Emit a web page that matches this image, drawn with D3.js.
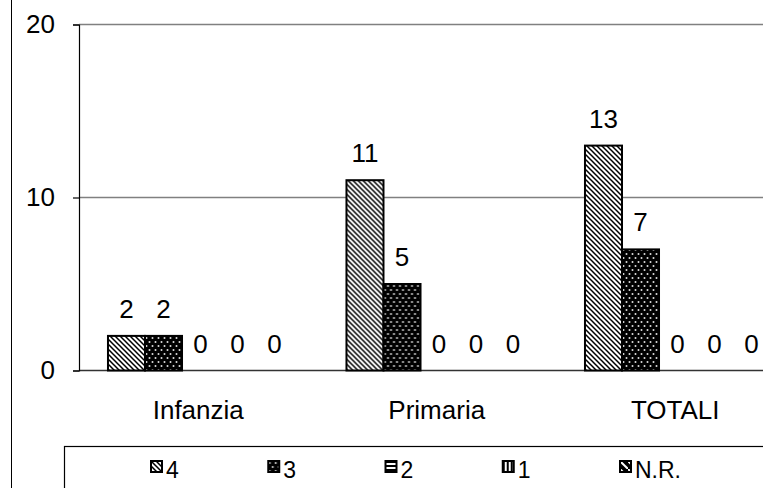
<!DOCTYPE html>
<html>
<head>
<meta charset="utf-8">
<script src="https://cdn.jsdelivr.net/npm/d3@7"></script>
<style>
  body { margin: 0; background: #fff; }
  text { font-family: "Liberation Sans", Arial, sans-serif; fill: #000; }
</style>
</head>
<body>
<div id="area"></div>
<script>
// categories and series
var categories = ["Infanzia", "Primaria", "TOTALI"];
var seriesNames = ["4", "3", "2", "1", "N.R."];
var val4 = [2, 11, 13];
var val3 = [2, 5, 7];
var val2 = [0, 0, 0];
var val1 = [0, 0, 0];
var valNR = [0, 0, 0];
var yTicks = [0, 10, 20];

var allSeries = [val4, val3, val2, val1, valNR];
var patternIds = ["p4", "p3", "p2", "p1", "pnr"];

var width = 763, height = 488;
var plotLeft = 79, plotRight = 794.5, plotTop = 24.5, plotBottom = 370.5;

var svg = d3.select("#area")
  .append("svg")
  .attr("width", width)
  .attr("height", height);

// patterns
var defs = svg.append("defs");

var p4 = defs.append("pattern").attr("id", "p4")
  .attr("patternUnits", "userSpaceOnUse").attr("width", 5).attr("height", 5);
p4.append("rect").attr("width", 5).attr("height", 5).attr("fill", "#fff");
p4.append("path").attr("d", "M-1,-1L6,6M-1,4L1,6M4,-1L6,1")
  .attr("stroke", "#000").attr("stroke-width", 1.5);

var p3 = defs.append("pattern").attr("id", "p3")
  .attr("patternUnits", "userSpaceOnUse").attr("width", 6).attr("height", 8);
p3.append("rect").attr("width", 6).attr("height", 8).attr("fill", "#000");
p3.append("circle").attr("cx", 1.5).attr("cy", 2).attr("r", 1).attr("fill", "#ddd");
p3.append("circle").attr("cx", 4.5).attr("cy", 6).attr("r", 1).attr("fill", "#ddd");

var p2 = defs.append("pattern").attr("id", "p2")
  .attr("patternUnits", "userSpaceOnUse").attr("width", 4).attr("height", 4);
p2.append("rect").attr("width", 4).attr("height", 4).attr("fill", "#fff");
p2.append("rect").attr("width", 4).attr("height", 2).attr("fill", "#000");

var p1 = defs.append("pattern").attr("id", "p1")
  .attr("patternUnits", "userSpaceOnUse").attr("width", 4).attr("height", 4);
p1.append("rect").attr("width", 4).attr("height", 4).attr("fill", "#fff");
p1.append("rect").attr("width", 2).attr("height", 4).attr("fill", "#000");

var pnr = defs.append("pattern").attr("id", "pnr")
  .attr("patternUnits", "userSpaceOnUse").attr("width", 8).attr("height", 8);
pnr.append("rect").attr("width", 8).attr("height", 8).attr("fill", "#000");
pnr.append("path").attr("d", "M0,0L8,8").attr("stroke", "#fff").attr("stroke-width", 2);

// scales
var x0 = d3.scaleBand()
  .domain(categories)
  .range([plotLeft, plotRight])
  .padding(0);

var bw = x0.bandwidth();
var x1 = d3.scaleBand()
  .domain(seriesNames)
  .range([bw * 0.1215, bw * 0.8975])
  .padding(0);

var y = d3.scaleLinear()
  .domain([0, 20])
  .range([plotBottom, plotTop]);

// outer chart border (left edge only visible)
svg.append("line")
  .attr("x1", 11.5).attr("x2", 11.5)
  .attr("y1", 0).attr("y2", height)
  .attr("stroke", "#000").attr("stroke-width", 1);

// gridlines
svg.append("g")
  .selectAll("line")
  .data(yTicks.filter(function(d) { return d > 0; }))
  .enter()
  .append("line")
    .attr("x1", plotLeft).attr("x2", width)
    .attr("y1", function(d) { return y(d); })
    .attr("y2", function(d) { return y(d); })
    .attr("stroke", "#808080")
    .attr("stroke-width", 1.3);

// baseline
svg.append("line")
  .attr("x1", plotLeft).attr("x2", width)
  .attr("y1", y(0)).attr("y2", y(0))
  .attr("stroke", "#333").attr("stroke-width", 1.3);

// y axis
var yAxis = svg.append("g")
  .attr("transform", "translate(" + plotLeft + ",0)")
  .call(d3.axisLeft(y).tickValues(yTicks).tickSize(6).tickPadding(18));
yAxis.select(".domain").attr("stroke", "#000").attr("stroke-width", 1.2);
yAxis.selectAll(".tick line").attr("stroke", "#000").attr("stroke-width", 1.2);
yAxis.selectAll("text")
  .style("font-family", "Liberation Sans, Arial, sans-serif")
  .style("font-size", "26px")
  .attr("fill", "#000");

// x labels
svg.append("g")
  .selectAll("text")
  .data(categories)
  .enter()
  .append("text")
    .attr("x", function(d) { return x0(d) + bw / 2; })
    .attr("y", 419)
    .attr("text-anchor", "middle")
    .style("font-size", "26px")
    .text(function(d) { return d; });

// bars
var groups = svg.append("g")
  .selectAll("g")
  .data(categories)
  .enter()
  .append("g")
    .attr("transform", function(d) { return "translate(" + x0(d) + ",0)"; });

groups.selectAll("rect")
  .data(function(d, i) {
    return seriesNames.map(function(s, k) { return {s: s, k: k, v: allSeries[k][i]}; });
  })
  .enter()
  .append("rect")
    .attr("x", function(d) { return x1(d.s); })
    .attr("y", function(d) { return y(d.v); })
    .attr("width", x1.bandwidth())
    .attr("height", function(d) { return y(0) - y(d.v); })
    .attr("fill", function(d) { return "url(#" + patternIds[d.k] + ")"; })
    .attr("stroke", function(d) { return d.v > 0 ? "#000" : "none"; })
    .attr("stroke-width", 2);

groups.selectAll("text")
  .data(function(d, i) {
    return seriesNames.map(function(s, k) { return {s: s, k: k, v: allSeries[k][i]}; });
  })
  .enter()
  .append("text")
    .attr("x", function(d) { return x1(d.s) + x1.bandwidth() / 2; })
    .attr("y", function(d) { return y(d.v) - 18; })
    .attr("text-anchor", "middle")
    .style("font-size", "26px")
    .text(function(d) { return d.v; });

// legend
svg.append("rect")
  .attr("x", 64.5).attr("y", 446.5)
  .attr("width", 760).attr("height", 60)
  .attr("fill", "none")
  .attr("stroke", "#000").attr("stroke-width", 1.2);

var legX = d3.scalePoint()
  .domain(seriesNames)
  .range([151, 620]);

var leg = svg.append("g")
  .selectAll("g")
  .data(seriesNames)
  .enter()
  .append("g")
    .attr("transform", function(d) { return "translate(" + legX(d) + ",461)"; });

leg.append("rect")
  .attr("width", 11).attr("height", 11)
  .attr("fill", function(d, i) { return "url(#" + patternIds[i] + ")"; })
  .attr("stroke", "#000").attr("stroke-width", 2);

leg.append("text")
  .attr("x", 15).attr("y", 17)
  .style("font-size", "23px")
  .text(function(d) { return d; });
</script>
</body>
</html>
